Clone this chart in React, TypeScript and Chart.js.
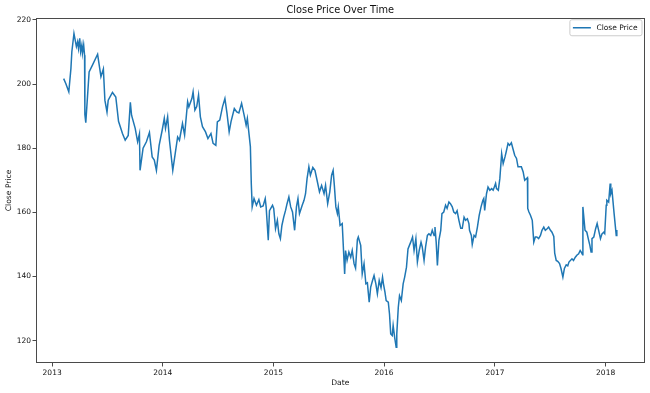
import React, { useEffect, useRef } from "react";
import { Chart, registerables } from "chart.js";

Chart.register(...registerables);

const chartTitle = "Close Price Over Time";
const xAxisTitle = "Date";
const yAxisTitle = "Close Price";
const seriesLabel = "Close Price";

const yearTicks = [2013, 2014, 2015, 2016, 2017, 2018];
const priceTicks = [120, 140, 160, 180, 200, 220];

const dates = [
  "2013-02-08", "2013-02-15", "2013-02-25", "2013-03-04", "2013-03-07", "2013-03-14", "2013-03-22", "2013-03-26",
  "2013-03-29", "2013-04-02", "2013-04-05", "2013-04-09", "2013-04-11", "2013-04-15", "2013-04-18", "2013-04-19",
  "2013-04-22", "2013-05-03", "2013-05-14", "2013-05-31", "2013-06-11", "2013-06-19", "2013-06-24", "2013-07-01",
  "2013-07-05", "2013-07-19", "2013-07-30", "2013-08-08", "2013-08-21", "2013-08-30", "2013-09-09", "2013-09-16",
  "2013-09-20", "2013-10-02", "2013-10-10", "2013-10-16", "2013-10-18", "2013-10-28", "2013-11-08", "2013-11-18",
  "2013-11-27", "2013-12-04", "2013-12-11", "2013-12-20", "2013-12-30",
  "2014-01-06", "2014-01-10", "2014-01-17", "2014-01-23", "2014-02-03", "2014-02-11", "2014-02-19", "2014-02-25",
  "2014-03-07", "2014-03-14", "2014-03-24", "2014-03-28", "2014-04-07", "2014-04-11", "2014-04-17", "2014-04-23",
  "2014-04-29", "2014-05-05", "2014-05-12", "2014-05-22", "2014-05-30", "2014-06-09", "2014-06-16", "2014-06-25",
  "2014-06-30", "2014-07-08", "2014-07-17", "2014-07-25", "2014-08-01", "2014-08-08", "2014-08-14", "2014-08-25",
  "2014-09-02", "2014-09-09", "2014-09-18", "2014-09-26", "2014-10-03", "2014-10-07", "2014-10-13", "2014-10-17",
  "2014-10-20", "2014-10-23", "2014-10-29", "2014-11-06", "2014-11-14", "2014-11-20", "2014-11-28", "2014-12-05",
  "2014-12-08", "2014-12-15", "2014-12-19", "2014-12-29",
  "2015-01-02", "2015-01-08", "2015-01-14", "2015-01-19", "2015-01-24", "2015-01-29", "2015-02-04", "2015-02-10",
  "2015-02-15", "2015-02-21", "2015-02-27", "2015-03-05", "2015-03-12", "2015-03-18", "2015-03-23", "2015-03-28",
  "2015-04-06", "2015-04-12", "2015-04-17", "2015-04-22", "2015-04-28", "2015-05-03", "2015-05-11", "2015-05-18",
  "2015-05-25", "2015-06-02", "2015-06-09", "2015-06-17", "2015-06-22", "2015-06-29", "2015-07-06", "2015-07-12",
  "2015-07-17", "2015-07-21", "2015-07-26", "2015-07-31", "2015-08-03", "2015-08-09", "2015-08-16", "2015-08-24",
  "2015-08-27", "2015-09-01", "2015-09-07", "2015-09-13", "2015-09-18", "2015-09-24", "2015-09-29", "2015-10-05",
  "2015-10-08", "2015-10-16", "2015-10-21", "2015-10-27", "2015-11-02", "2015-11-07", "2015-11-13", "2015-11-18",
  "2015-11-24", "2015-11-29", "2015-12-05", "2015-12-10", "2015-12-16", "2015-12-22", "2015-12-27", "2015-12-30",
  "2016-01-04", "2016-01-08", "2016-01-15", "2016-01-19", "2016-01-23", "2016-01-28", "2016-01-31", "2016-02-05",
  "2016-02-10", "2016-02-12", "2016-02-17", "2016-02-21", "2016-02-27", "2016-03-04", "2016-03-09", "2016-03-15",
  "2016-03-20", "2016-03-29", "2016-04-04", "2016-04-09", "2016-04-15", "2016-04-20", "2016-04-26", "2016-05-02",
  "2016-05-06", "2016-05-12", "2016-05-17", "2016-05-23", "2016-05-28", "2016-06-03", "2016-06-08", "2016-06-14",
  "2016-06-17", "2016-06-21", "2016-06-25", "2016-06-30", "2016-07-06", "2016-07-10", "2016-07-16", "2016-07-22",
  "2016-07-27", "2016-08-02", "2016-08-07", "2016-08-13", "2016-08-18", "2016-08-24", "2016-08-29", "2016-09-04",
  "2016-09-10", "2016-09-15", "2016-09-21", "2016-09-26", "2016-10-02", "2016-10-07", "2016-10-09", "2016-10-15",
  "2016-10-18", "2016-10-24", "2016-10-29", "2016-11-04", "2016-11-10", "2016-11-16", "2016-11-22", "2016-11-25",
  "2016-11-28", "2016-12-04", "2016-12-09", "2016-12-15", "2016-12-21", "2016-12-26",
  "2017-01-03", "2017-01-06", "2017-01-12", "2017-01-17", "2017-01-23", "2017-01-28", "2017-02-03", "2017-02-07",
  "2017-02-13", "2017-02-18", "2017-02-24", "2017-03-01", "2017-03-07", "2017-03-13", "2017-03-18", "2017-03-24",
  "2017-03-29", "2017-04-04", "2017-04-09", "2017-04-18", "2017-04-19", "2017-04-23", "2017-04-28", "2017-05-04",
  "2017-05-09", "2017-05-14", "2017-05-19", "2017-05-25", "2017-05-31", "2017-06-05", "2017-06-11", "2017-06-16",
  "2017-06-22", "2017-06-27", "2017-07-03", "2017-07-08", "2017-07-14", "2017-07-17", "2017-07-22", "2017-07-27",
  "2017-08-02", "2017-08-07", "2017-08-13", "2017-08-18", "2017-08-24", "2017-08-29", "2017-09-02", "2017-09-12",
  "2017-09-17", "2017-09-23", "2017-09-28", "2017-10-04", "2017-10-09", "2017-10-13", "2017-10-17", "2017-10-18",
  "2017-10-20", "2017-10-25", "2017-10-31", "2017-11-06", "2017-11-10", "2017-11-14", "2017-11-17", "2017-11-23",
  "2017-11-29", "2017-12-04", "2017-12-09", "2017-12-15", "2017-12-20", "2017-12-26", "2017-12-29",
  "2018-01-03", "2018-01-05", "2018-01-11", "2018-01-16", "2018-01-18", "2018-01-22", "2018-01-25", "2018-01-29",
  "2018-02-05", "2018-02-07",
];

const closes = [
  201.7, 200.2, 197.6, 204.9, 210.1, 215.8, 211.7, 213.2,
  211.1, 214.3, 210.1, 212.2, 209.6, 212.2, 209.0, 190.5,
  188.0, 203.8, 205.9, 209.3, 202.3, 204.7, 195.0, 191.3,
  195.0, 197.4, 196.0, 188.4, 184.6, 182.5, 184.0, 194.3,
  190.3, 186.2, 182.0, 184.5, 173.1, 180.0, 182.0, 184.9,
  177.3, 176.3, 173.1, 180.9, 185.6,
  189.3, 186.2, 189.8, 182.5, 173.1, 178.3, 183.5, 182.5,
  187.7, 184.1, 194.5, 192.9, 195.5, 197.6, 191.9, 193.0,
  196.6, 189.8, 186.7, 185.1, 183.0, 184.6, 181.5, 180.9,
  188.2, 188.75, 192.9, 195.5, 190.8, 185.1, 188.2, 192.4,
  191.3, 191.0, 194.0, 190.5, 187.2, 189.3, 184.0, 180.5,
  169.0, 161.7, 164.3, 162.2, 164.0, 161.7, 162.0, 164.3,
  161.7, 151.3, 160.5, 162.2,
  161.2, 154.9, 157.5, 153.3, 151.8, 155.9, 158.5, 160.6,
  162.7, 164.8, 161.7, 160.1, 154.4, 161.7, 164.3, 159.6,
  162.2, 163.75, 165.8, 170.5, 174.2, 171.6, 174.0, 173.1,
  170.0, 166.4, 168.4, 165.8, 168.4, 162.7, 166.4, 171.6,
  173.1, 168.4, 161.7, 159.6, 161.7, 155.9, 156.5, 140.8,
  148.1, 145.0, 147.6, 146.0, 148.1, 144.0, 142.6, 151.5,
  152.3, 149.7, 140.8, 144.0, 137.7, 138.0, 132.0, 136.7,
  138.75, 140.3, 137.7, 134.6, 138.75, 136.5, 139.8, 137.7,
  135.1, 132.5, 132.0, 128.3, 122.1, 121.6, 124.7, 121.0,
  117.9, 122.1, 130.4, 134.0, 132.5, 137.7, 139.8, 142.9,
  148.6, 150.7, 152.3, 148.1, 151.8, 144.5, 148.1, 150.7,
  149.2, 145.0, 149.2, 152.8, 153.3, 152.8, 154.4, 152.8,
  155.4, 150.7, 143.4, 151.25, 154.4, 159.6, 160.1, 162.2,
  161.2, 163.2, 162.7, 161.7, 160.1, 159.6, 160.5, 157.5,
  155.0, 155.0, 158.5, 157.5, 158.0, 156.5, 154.4, 152.8,
  150.0, 152.8, 152.3, 155.4, 159.1, 161.7, 163.75, 164.3,
  160.6, 165.8, 167.9, 166.9, 167.4, 166.9,
  169.0, 167.4, 166.9, 170.5, 178.3, 175.2, 177.3, 178.9,
  181.5, 180.9, 181.7, 179.9, 177.8, 176.8, 174.2, 174.2,
  174.2, 172.6, 170.0, 170.8, 161.2, 160.1, 159.1, 157.5,
  150.7, 152.3, 152.3, 151.8, 152.8, 154.4, 155.4, 154.4,
  154.9, 155.4, 154.4, 153.8, 152.5, 147.3, 145.0, 144.7,
  144.0, 142.4, 139.8, 142.5, 143.6, 143.3, 144.5, 145.5,
  145.0, 146.0, 146.6, 147.1, 148.1, 147.5, 146.8, 161.7,
  159.6, 154.4, 153.8, 151.25, 149.7, 147.6, 151.8, 152.3,
  154.9, 156.5, 154.4, 151.8, 153.3, 153.8, 153.4,
  162.2, 163.75, 163.2, 169.0, 165.8, 166.9, 163.75, 159.6,
  152.8, 154.5,
];

const FONT = "'DejaVu Sans', sans-serif";
const TEXT = "#111111";
const FRAME = "#4a4a4a";
const LINE = "#1f77b4";

const toMs = (s: string) => {
  const [y, m, d] = s.split("-").map(Number);
  return Date.UTC(y, m - 1, d);
};

const framePlugin = {
  id: "frameBox",
  afterDraw(chart: any) {
    const { ctx, chartArea } = chart;
    const l = Math.round(chartArea.left) + 0.5;
    const t = Math.round(chartArea.top) + 0.5;
    const r = Math.round(chartArea.right) - 0.5;
    const b = Math.round(chartArea.bottom) - 0.5;
    ctx.save();
    ctx.strokeStyle = FRAME;
    ctx.lineWidth = 1;
    ctx.strokeRect(l, t, r - l, b - t);
    ctx.restore();
  },
};

const legendPlugin = {
  id: "innerLegend",
  afterDraw(chart: any) {
    const { ctx, chartArea } = chart;
    const ds = chart.data.datasets[0];
    ctx.save();
    ctx.font = `7.5px ${FONT}`;
    const tw = ctx.measureText(ds.label).width;
    const padL = 3;
    const handle = 18;
    const gap = 5.5;
    const padR = 4.5;
    const w = padL + handle + gap + tw + padR;
    const h = 16;
    const x = chartArea.right - 2.5 - w;
    const y = chartArea.top + 2;
    const rad = 2;
    ctx.beginPath();
    ctx.moveTo(x + rad, y);
    ctx.lineTo(x + w - rad, y);
    ctx.quadraticCurveTo(x + w, y, x + w, y + rad);
    ctx.lineTo(x + w, y + h - rad);
    ctx.quadraticCurveTo(x + w, y + h, x + w - rad, y + h);
    ctx.lineTo(x + rad, y + h);
    ctx.quadraticCurveTo(x, y + h, x, y + h - rad);
    ctx.lineTo(x, y + rad);
    ctx.quadraticCurveTo(x, y, x + rad, y);
    ctx.closePath();
    ctx.fillStyle = "rgba(255,255,255,0.8)";
    ctx.fill();
    ctx.strokeStyle = "#cccccc";
    ctx.lineWidth = 1;
    ctx.stroke();
    const cy = y + h / 2;
    ctx.beginPath();
    ctx.moveTo(x + padL, cy);
    ctx.lineTo(x + padL + handle, cy);
    ctx.strokeStyle = ds.borderColor;
    ctx.lineWidth = 1.5;
    ctx.stroke();
    ctx.fillStyle = TEXT;
    ctx.textBaseline = "middle";
    ctx.textAlign = "left";
    ctx.fillText(ds.label, x + padL + handle + gap, cy);
    ctx.restore();
  },
};

export default function App() {
  const canvasRef = useRef<HTMLCanvasElement | null>(null);

  useEffect(() => {
    document.body.style.margin = "0";
    const canvas = canvasRef.current;
    if (!canvas) return;

    const points = dates.map((d, i) => ({ x: toMs(d), y: closes[i] }));
    const first = points[0].x;
    const last = points[points.length - 1].x;
    const xPad = (last - first) * 0.05;
    const lo = Math.min(...closes);
    const hi = Math.max(...closes);
    const yPad = (hi - lo) * 0.05;

    const chart = new Chart(canvas, {
      type: "line",
      data: {
        datasets: [
          {
            label: seriesLabel,
            data: points,
            borderColor: LINE,
            backgroundColor: LINE,
            borderWidth: 1.5,
            pointRadius: 0,
            tension: 0,
            fill: false,
          },
        ],
      },
      options: {
        animation: false,
        responsive: false,
        maintainAspectRatio: false,
        devicePixelRatio: 1,
        layout: { padding: { left: 0, right: 5.5, top: 0, bottom: 0 } },
        plugins: {
          legend: { display: false },
          tooltip: { enabled: false },
          title: {
            display: true,
            text: chartTitle,
            color: TEXT,
            fullSize: false,
            font: { family: FONT, size: 9.8, weight: "normal" },
            padding: { top: 4.5, bottom: 1.5 },
          },
        },
        scales: {
          x: {
            type: "linear",
            min: first - xPad,
            max: last + xPad,
            afterBuildTicks: (scale: any) => {
              scale.ticks = yearTicks.map((y) => ({ value: Date.UTC(y, 0, 1) }));
            },
            afterFit: (scale: any) => {
              scale.height = 30;
            },
            ticks: {
              autoSkip: false,
              maxRotation: 0,
              minRotation: 0,
              padding: 2,
              color: TEXT,
              font: { family: FONT, size: 7.5 },
              callback: (v: any) => String(new Date(Number(v)).getUTCFullYear()),
            },
            grid: {
              display: true,
              drawOnChartArea: false,
              drawTicks: true,
              tickLength: 3.5,
              color: FRAME,
              lineWidth: 1,
            },
            border: { display: false },
            title: {
              display: true,
              text: xAxisTitle,
              color: TEXT,
              font: { family: FONT, size: 7.6 },
              padding: { top: 0, bottom: 5.4 },
            },
          },
          y: {
            type: "linear",
            min: lo - yPad,
            max: hi + yPad,
            afterBuildTicks: (scale: any) => {
              scale.ticks = priceTicks.map((v) => ({ value: v }));
            },
            afterFit: (scale: any) => {
              scale.width = 36;
            },
            ticks: {
              padding: 1.5,
              color: TEXT,
              font: { family: FONT, size: 7.5 },
              callback: (v: any) => String(Math.round(Number(v))),
            },
            grid: {
              display: true,
              drawOnChartArea: false,
              drawTicks: true,
              tickLength: 3.5,
              color: FRAME,
              lineWidth: 1,
            },
            border: { display: false },
            title: {
              display: true,
              text: yAxisTitle,
              color: TEXT,
              font: { family: FONT, size: 7.6 },
              padding: { top: 4, bottom: 0 },
            },
          },
        },
      },
      plugins: [framePlugin, legendPlugin],
    });

    return () => {
      chart.destroy();
    };
  }, []);

  return (
    <div style={{ width: 650, height: 393, background: "#ffffff" }}>
      <canvas ref={canvasRef} width={650} height={393} style={{ display: "block" }} />
    </div>
  );
}
